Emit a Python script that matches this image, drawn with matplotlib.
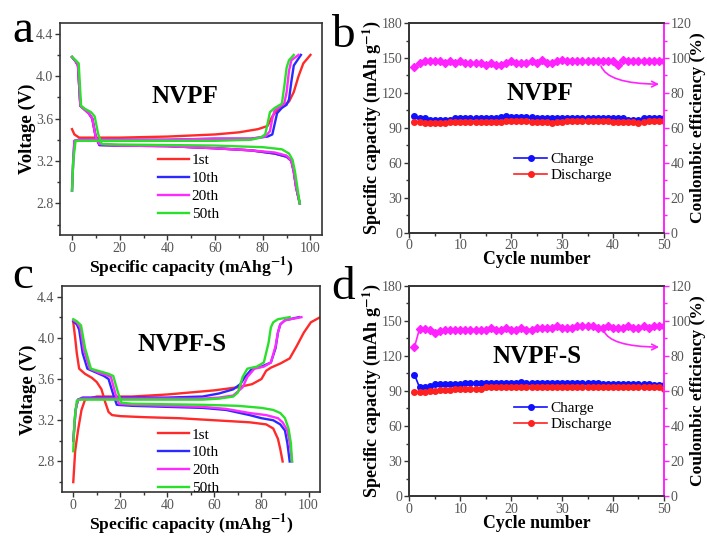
import numpy as np
import matplotlib
matplotlib.use('Agg')
import matplotlib.pyplot as plt
from matplotlib.ticker import MultipleLocator

plt.rcParams['font.family'] = ['Liberation Serif', 'DejaVu Serif']
plt.rcParams['mathtext.fontset'] = 'stix'

# ---------------- data ----------------
cycle_labels = ['1st', '10th', '20th', '50th']
curve_colors = ['#ff2a2a', '#2a2aff', '#ff2aff', '#2ae02a']

# NVPF charge / discharge curves (capacity, voltage)
nvpf_chg_cap = [
    [0, 1, 3, 5, 20, 40, 60, 70, 78, 82, 84, 86, 88, 91, 93, 95, 97, 100],
    [0, 0.5, 1, 3, 20, 40, 60, 75, 82, 84, 85, 86, 88, 90, 91, 92, 93, 96],
    [0, 0.5, 1, 3, 20, 40, 60, 75, 81, 83, 84, 85, 87, 89, 90, 91, 92, 95],
    [0, 0.5, 1.5, 3, 20, 40, 60, 75, 79, 81, 82, 83, 85, 88, 89, 90, 91, 93],
]
nvpf_chg_v = [
    [3.50, 3.45, 3.42, 3.42, 3.42, 3.43, 3.45, 3.47, 3.50, 3.53, 3.62, 3.68, 3.71, 3.76, 3.85, 4.00, 4.12, 4.20],
    [2.92, 3.20, 3.39, 3.40, 3.40, 3.40, 3.41, 3.41, 3.43, 3.45, 3.55, 3.65, 3.70, 3.73, 3.78, 3.95, 4.10, 4.20],
    [2.92, 3.20, 3.39, 3.40, 3.40, 3.40, 3.41, 3.41, 3.43, 3.48, 3.60, 3.68, 3.71, 3.74, 3.85, 4.05, 4.15, 4.20],
    [2.92, 3.20, 3.39, 3.39, 3.39, 3.39, 3.39, 3.40, 3.42, 3.45, 3.55, 3.66, 3.70, 3.74, 3.90, 4.08, 4.15, 4.20],
]
nvpf_dis_cap = [
    [0, 1.5, 2.5, 3.5, 5, 7, 8.5, 10, 11.5, 20, 40, 60, 75, 85, 90, 92, 93, 94, 95.5],
    [0, 1.5, 2.5, 3.5, 5, 7, 8.5, 10, 11.5, 20, 40, 60, 75, 85, 90, 92, 93, 94, 95.5],
    [0, 1.5, 2.5, 3.5, 5, 7, 8.5, 10, 11.5, 20, 40, 60, 75, 85, 90, 92, 93, 94, 95.5],
    [0, 1.5, 2.8, 3.8, 5.5, 8, 9.5, 11, 12.5, 20, 40, 60, 80, 88, 91, 92.5, 93.5, 94.5, 95.5],
]
nvpf_dis_v = [
    [4.18, 4.14, 4.10, 3.72, 3.69, 3.65, 3.60, 3.42, 3.35, 3.345, 3.34, 3.32, 3.30, 3.27, 3.24, 3.20, 3.10, 2.95, 2.80],
    [4.18, 4.14, 4.10, 3.72, 3.69, 3.65, 3.60, 3.42, 3.35, 3.345, 3.34, 3.32, 3.30, 3.27, 3.24, 3.20, 3.10, 2.95, 2.80],
    [4.18, 4.14, 4.10, 3.72, 3.69, 3.65, 3.60, 3.42, 3.36, 3.345, 3.34, 3.32, 3.30, 3.28, 3.25, 3.20, 3.10, 2.95, 2.80],
    [4.18, 4.15, 4.12, 3.72, 3.69, 3.66, 3.62, 3.45, 3.36, 3.355, 3.35, 3.345, 3.33, 3.31, 3.27, 3.21, 3.10, 2.95, 2.80],
]

# NVPF-S charge / discharge curves
nvpfs_chg_cap = [
    [0, 0.8, 2, 3.5, 5, 10, 25, 40, 60, 70, 76, 80, 82, 84, 88, 92, 95, 98, 101, 105],
    [0, 1, 2, 4, 20, 40, 55, 62, 68, 71, 73, 76, 80, 84, 86, 87, 88, 90, 96],
    [0, 1, 2, 4, 20, 40, 55, 62, 68, 72, 74, 77, 81, 84, 86, 87, 88, 90, 97],
    [0, 0.5, 1.5, 3, 20, 40, 55, 62, 68, 70, 72, 74, 78, 81, 83, 84, 85, 87, 92],
]
nvpfs_chg_v = [
    [2.60, 2.90, 3.10, 3.30, 3.40, 3.43, 3.43, 3.45, 3.49, 3.52, 3.55, 3.60, 3.68, 3.71, 3.75, 3.80, 3.92, 4.05, 4.15, 4.20],
    [3.00, 3.30, 3.40, 3.42, 3.42, 3.42, 3.43, 3.46, 3.50, 3.55, 3.62, 3.70, 3.72, 3.76, 3.90, 4.05, 4.13, 4.17, 4.20],
    [3.00, 3.30, 3.40, 3.41, 3.41, 3.41, 3.41, 3.42, 3.44, 3.52, 3.62, 3.70, 3.72, 3.76, 3.92, 4.05, 4.13, 4.17, 4.20],
    [2.90, 3.20, 3.39, 3.40, 3.40, 3.40, 3.40, 3.41, 3.43, 3.47, 3.62, 3.70, 3.72, 3.76, 3.95, 4.10, 4.15, 4.18, 4.20],
]
nvpfs_dis_cap = [
    [0, 0.8, 1.5, 2.5, 5, 8, 10, 12, 13.5, 15, 16.5, 20, 30, 45, 60, 75, 82, 85, 87, 88, 89],
    [0, 1.5, 2.5, 4, 6, 10, 13, 15, 17, 18.5, 25, 40, 55, 65, 75, 80, 85, 88, 90, 91, 92],
    [0, 1.5, 3, 4.5, 7, 11, 14, 16, 18, 19.5, 25, 40, 55, 65, 75, 82, 87, 89, 91, 92, 93],
    [0, 1.5, 3.3, 5, 7.5, 12, 15, 17, 19, 20.5, 25, 40, 55, 70, 80, 85, 88, 90, 91.5, 92.5, 93],
]
nvpfs_dis_v = [
    [4.15, 4.00, 3.85, 3.70, 3.65, 3.61, 3.57, 3.50, 3.38, 3.28, 3.25, 3.24, 3.23, 3.22, 3.20, 3.18, 3.16, 3.12, 3.02, 2.92, 2.80],
    [4.16, 4.13, 4.08, 3.85, 3.70, 3.66, 3.63, 3.60, 3.45, 3.35, 3.34, 3.33, 3.32, 3.30, 3.25, 3.22, 3.20, 3.16, 3.10, 2.98, 2.80],
    [4.17, 4.15, 4.10, 3.88, 3.70, 3.66, 3.64, 3.62, 3.45, 3.36, 3.35, 3.34, 3.33, 3.31, 3.27, 3.25, 3.22, 3.18, 3.10, 2.98, 2.80],
    [4.18, 4.16, 4.12, 3.90, 3.70, 3.67, 3.65, 3.63, 3.47, 3.37, 3.36, 3.355, 3.35, 3.34, 3.32, 3.30, 3.27, 3.22, 3.12, 2.98, 2.80],
]

# cycling data
cycles = np.arange(1, 51)
nvpf_charge = [100, 98, 98, 97, 97, 97, 97, 97, 98, 98, 98, 98, 98, 98, 98, 98, 98, 99, 100, 99,
               99, 99, 99, 99, 98, 98, 98, 98, 98, 98, 98, 98, 98, 98, 98, 98, 98, 98, 98, 98,
               98, 98, 97, 97, 97, 98, 98, 98, 98, 98]
nvpf_discharge = [95, 95, 94, 94, 94, 94, 94, 95, 95, 95, 95, 95, 95, 95, 95, 95, 95, 95, 96, 96,
                  96, 96, 96, 95, 95, 95, 95, 94, 95, 95, 96, 96, 96, 96, 96, 96, 96, 96, 96, 95,
                  95, 95, 95, 95, 94, 95, 96, 96, 96, 96]
nvpf_ce = [95, 97, 98, 98, 98, 98, 97, 98, 97, 98, 97, 97, 97, 97, 96, 97, 96, 96, 97, 98,
           97, 97, 97, 98, 97, 99, 97, 97, 98, 99, 98, 98, 98, 98, 98, 98, 98, 98, 98, 98,
           96, 99, 98, 98, 98, 98, 98, 98, 98, 98]

nvpfs_charge = [104, 93, 93, 94, 96, 96, 96, 96, 96, 96, 97, 97, 97, 97, 97, 97, 97, 97, 97, 97,
                97, 98, 97, 97, 97, 97, 97, 97, 97, 97, 97, 97, 97, 97, 97, 97, 97, 96, 96, 96,
                96, 96, 96, 96, 96, 96, 96, 95, 95, 95]
nvpfs_discharge = [89, 89, 89, 90, 90, 91, 91, 91, 92, 92, 92, 92, 92, 92, 93, 93, 93, 93, 93, 93,
                   93, 93, 93, 93, 93, 93, 93, 93, 93, 93, 93, 93, 93, 93, 93, 93, 93, 93, 93, 93,
                   93, 93, 93, 93, 93, 93, 93, 93, 93, 92]
nvpfs_ce = [85, 95.5, 95.5, 95, 93, 94, 95, 95, 95, 95, 95, 95, 95, 95, 95, 96, 95, 95, 96, 95,
            95, 96, 95, 95, 96, 96, 96, 96, 97, 96, 96, 96, 97, 97, 97, 97, 96, 96, 97, 96,
            96, 96, 97, 96, 96, 97, 96, 97, 97, 97]

tick_gray = '#555555'
magenta = '#ff22ff'


def style_axes(ax):
    for s in ax.spines.values():
        s.set_linewidth(1.2)
        s.set_color('#333333')
    ax.tick_params(which='both', direction='out', colors='#333333',
                   labelcolor=tick_gray, labelsize=10, top=False, right=False, pad=1.5)
    ax.tick_params(which='major', length=3.5, width=1)
    ax.tick_params(which='minor', length=2, width=1)


def voltage_panel(ax, chg_cap, chg_v, dis_cap, dis_v, name, name_xy, leg_xy):
    for i in range(4):
        ax.plot(chg_cap[i], chg_v[i], color=curve_colors[i], lw=1.7, label=cycle_labels[i])
        ax.plot(dis_cap[i], dis_v[i], color=curve_colors[i], lw=1.7)
    ax.set_xlim(-5, 105)
    ax.set_ylim(2.5, 4.5)
    ax.xaxis.set_major_locator(MultipleLocator(20))
    ax.xaxis.set_minor_locator(MultipleLocator(10))
    ax.set_yticks([2.8, 3.2, 3.6, 4.0, 4.4])
    ax.yaxis.set_minor_locator(MultipleLocator(0.2))
    style_axes(ax)
    ax.set_xlabel('Specific capacity (mAhg$^{\\mathbf{-1}}$)', fontsize=12.6, fontweight='bold', labelpad=0)
    ax.set_ylabel('Voltage (V)', fontsize=13.5, fontweight='bold', labelpad=0)
    ax.text(name_xy[0], name_xy[1], name, transform=ax.transAxes, fontsize=18,
            fontweight='bold', ha='center', va='center')
    ax.legend(loc='upper left', bbox_to_anchor=leg_xy, frameon=False, fontsize=11,
              handlelength=2.0, handletextpad=0.2, labelspacing=0.27, borderpad=0)


def cycle_panel(ax, chg, dis, ce, name, name_xy, arrow_start, leg_xy):
    ax.plot(cycles, chg, color='#1010ff', marker='o', ms=4, lw=1.2, label='Charge')
    ax.plot(cycles, dis, color='#ff2020', marker='o', ms=4, lw=1.2, label='Discharge')
    ax.set_xlim(0, 50)
    ax.set_ylim(0, 180)
    ax.xaxis.set_major_locator(MultipleLocator(10))
    ax.xaxis.set_minor_locator(MultipleLocator(5))
    ax.yaxis.set_major_locator(MultipleLocator(30))
    ax.yaxis.set_minor_locator(MultipleLocator(15))
    style_axes(ax)
    ax.spines['right'].set_color(magenta)
    ax.set_xlabel('Cycle number', fontsize=12.8, fontweight='bold', labelpad=-1)
    ax.set_ylabel('Specific capacity (mAh g$^{\\mathbf{-1}}$)', fontsize=13, fontweight='bold', labelpad=-1)
    ax.text(name_xy[0], name_xy[1], name, transform=ax.transAxes, fontsize=18,
            fontweight='bold', ha='center', va='center')
    ax.legend(loc='upper left', bbox_to_anchor=leg_xy, frameon=False, fontsize=11,
              handlelength=2.2, handletextpad=0.2, labelspacing=0.15, borderpad=0)

    ax2 = ax.twinx()
    ax2.plot(cycles, ce, color=magenta, marker='D', ms=4, lw=1.2)
    ax2.set_ylim(0, 120)
    ax2.yaxis.set_major_locator(MultipleLocator(20))
    ax2.yaxis.set_minor_locator(MultipleLocator(10))
    for s in ax2.spines.values():
        s.set_linewidth(1.2)
    ax2.spines['right'].set_color(magenta)
    ax2.spines['left'].set_color('#333333')
    ax2.spines['top'].set_color('#333333')
    ax2.spines['bottom'].set_color('#333333')
    ax2.tick_params(which='both', direction='out', colors=magenta, labelcolor=tick_gray,
                    labelsize=10, pad=1.5)
    ax2.tick_params(which='major', length=3.5, width=1)
    ax2.tick_params(which='minor', length=2, width=1)
    ax2.set_ylabel('Coulombic efficiency (%)', fontsize=12.6, fontweight='bold', labelpad=-1)
    ax2.annotate('', xy=(49.6, 85), xytext=arrow_start,
                 arrowprops=dict(arrowstyle='->', color=magenta, lw=1.2,
                                 connectionstyle='angle3,angleA=-80,angleB=0'))


fig = plt.figure(figsize=(7.07, 5.37), dpi=100)
ax_a = fig.add_axes([0.085, 0.562, 0.371, 0.395])
ax_b = fig.add_axes([0.579, 0.567, 0.360, 0.390])
ax_c = fig.add_axes([0.087, 0.083, 0.366, 0.384])
ax_d = fig.add_axes([0.579, 0.076, 0.360, 0.392])

voltage_panel(ax_a, nvpf_chg_cap, nvpf_chg_v, nvpf_dis_cap, nvpf_dis_v, 'NVPF',
              (0.477, 0.656), (0.345, 0.42))
voltage_panel(ax_c, nvpfs_chg_cap, nvpfs_chg_v, nvpfs_dis_cap, nvpfs_dis_v, 'NVPF-S',
              (0.465, 0.716), (0.345, 0.35))
cycle_panel(ax_b, nvpf_charge, nvpf_discharge, nvpf_ce, 'NVPF', (0.513, 0.666), (37.5, 97),
            (0.38, 0.42))
cycle_panel(ax_d, nvpfs_charge, nvpfs_discharge, nvpfs_ce, 'NVPF-S', (0.5, 0.664), (38, 96),
            (0.38, 0.485))

for letter, x, y in [('a', 0.018, 0.922), ('b', 0.468, 0.913), ('c', 0.018, 0.464), ('d', 0.468, 0.444)]:
    fig.text(x, y, letter, fontsize=34, ha='left', va='baseline')

fig.savefig('out.png', dpi=100)
